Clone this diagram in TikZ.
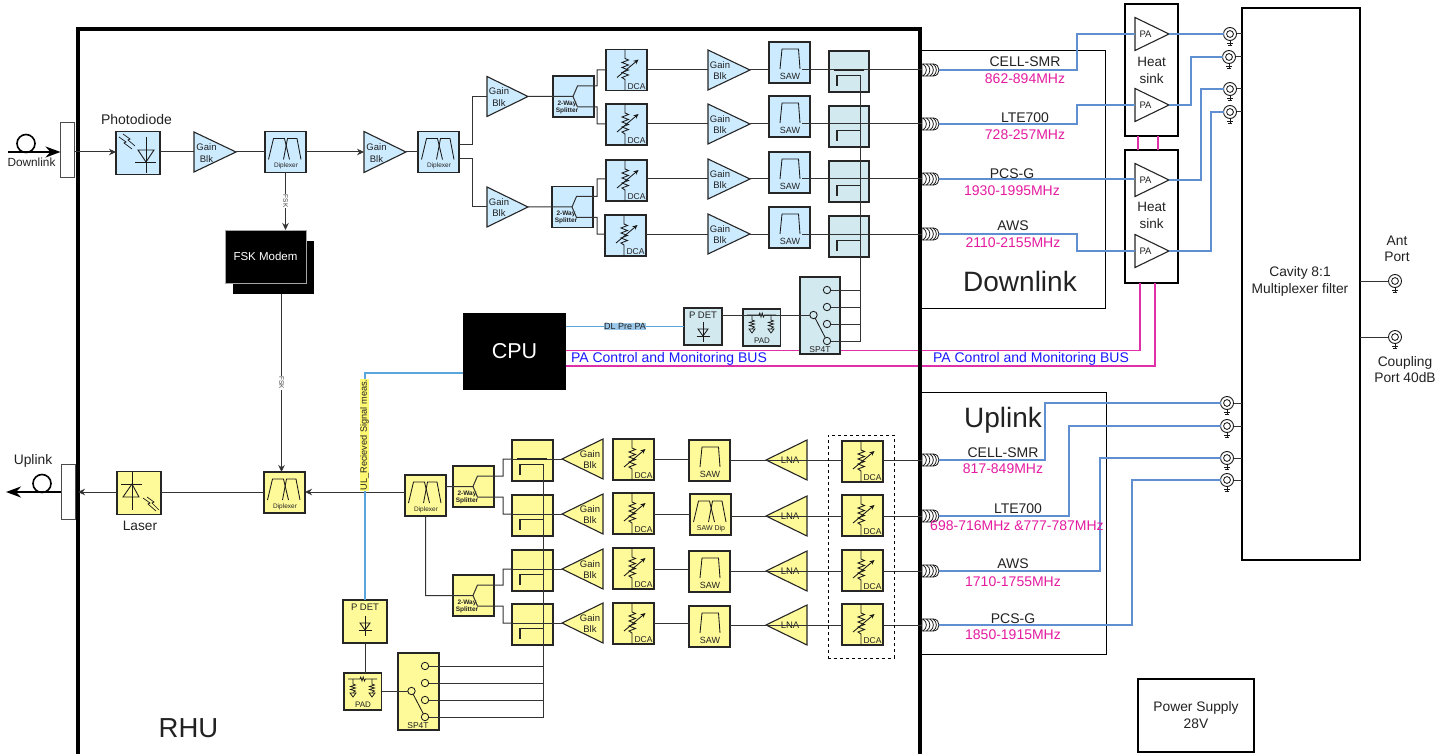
\documentclass[tikz,border=0pt]{standalone}
\usepackage{fontspec}
\setmainfont{Liberation Sans}
\usetikzlibrary{shapes.geometric,arrows.meta,calc}
\definecolor{dlfill}{HTML}{CCEBFF}
\definecolor{ulfill}{HTML}{FFFA99}
\definecolor{cpfill}{HTML}{D2E9EF}
\definecolor{linecol}{HTML}{333333}
\definecolor{sigblue}{HTML}{5F8FD0}
\definecolor{skyblue}{HTML}{5AA5DC}
\definecolor{busmag}{HTML}{E030A8}
\definecolor{freqmag}{HTML}{E41BA0}
\definecolor{busblue}{HTML}{1A1AFF}
\definecolor{txtcol}{HTML}{222222}
\newcommand{\fs}[2]{\fontsize{#1}{#2}\selectfont}
\tikzset{
 devbox/.style={rectangle,draw=black!85,line width=1.1,inner sep=0,outer sep=0,anchor=north west,minimum width=41,minimum height=41},
 dl/.style={devbox,fill=dlfill},
 ul/.style={devbox,fill=ulfill},
 cp/.style={devbox,fill=cpfill,minimum width=40},
 wire/.style={draw=linecol,line width=1},
 sym/.style={draw=black!90,line width=0.85},
 bw/.style={draw=sigblue,line width=1.25},
 skyw/.style={draw=skyblue,line width=1.1},
 busw/.style={draw=busmag,line width=1.4},
 arr/.style={-{Stealth[length=7pt,width=6.5pt]}},
 tx/.style={inner sep=0,outer sep=0,text=txtcol,align=center,yshift=-0.6pt},
 tritri/.style={isosceles triangle,isosceles triangle stretches,draw=black!85,line width=1.1,inner sep=0,outer sep=0,anchor=lower side},
 bigfib/.style={line width=2.4,draw=black,-{Stealth[length=15pt,width=11pt]}},
 hs/.style={rectangle,draw=black,line width=2.6,fill=none,inner sep=0,outer sep=0,anchor=north west},
 mag/.style={inner sep=0,outer sep=0,text=freqmag,font=\fs{14}{16},yshift=-1pt},
 blk/.style={inner sep=0,outer sep=0,text=txtcol,font=\fs{14}{16},yshift=-1pt},
 bus/.style={inner sep=0,outer sep=0,text=busblue,font=\fs{14}{16},yshift=-1pt},
 mainln/.style={draw=black!85,line width=1.4},
}
% horizontal wire between x of #1 and x of #2 at height of #3
\newcommand{\hw}[3]{\draw[wire] (#1 |- #3) -- (#2 |- #3);}
\newcommand{\Dca}[4]{%
 \node[#1] (#2) at (#3,#4) {};
 \begin{scope}[shift={(#3,#4)}]
 \draw[sym] (19,0) -- (19,9) -- (22.5,10.5) -- (16,13) -- (22.5,15.5) -- (16,18) -- (22.5,20.5) -- (16,23) -- (22.5,25.5) -- (16,28) -- (19,30) -- (19,41);
 \draw[sym,-{Stealth[length=5pt,width=4.5pt]}] (11,28) -- (32.5,10);
 \node[tx,font=\fs{8.5}{10}] (#2-t) at (30.5,36) {DCA};
 \end{scope}}
\newcommand{\Saw}[4]{%
 \node[#1] (#2) at (#3,#4) {};
 \begin{scope}[shift={(#3,#4)}]
 \draw[sym] (11,27) -- (13,7) -- (29.5,7) -- (31,27);
 \node[tx,font=\fs{9}{10}] (#2-t) at (21,34) {SAW};
 \end{scope}}
\newcommand{\Flt}[6]{% style name x y text size
 \node[#1] (#2) at (#3,#4) {};
 \begin{scope}[shift={(#3,#4)}]
 \draw[sym] (3.5,28) -- (8.5,7) -- (19.5,7) -- (24.5,28);
 \draw[sym] (18.5,28) -- (22.5,7) -- (32,7) -- (36,28);
 \node[tx,font=\fs{#6}{8}] (#2-t) at (21,34) {#5};
 \end{scope}}
\newcommand{\Split}[4]{%
 \node[#1] (#2) at (#3,#4) {};
 \begin{scope}[shift={(#3,#4)}]
 \coordinate (#2-f) at (20,20.5);
 \coordinate (#2-u) at (24.5,10);
 \coordinate (#2-d) at (24.5,31);
 \node[tx,font=\bfseries\fs{6.5}{6}] (#2-t) at (14,30.5) {2-Way\\Splitter};
 \end{scope}}
\newcommand{\Cpl}[4]{%
 \node[#1] (#2) at (#3,#4) {};
 \begin{scope}[shift={(#3,#4)}]
 \coordinate (#2-k) at (31.5,24.5);
 \draw[draw=black!85,line width=1.4] (8,35) -- (8,24.5) -- (31.5,24.5);
 \end{scope}}
\newcommand{\Sw}[4]{%
 \node[#1,minimum height=77] (#2) at (#3,#4) {};
 \begin{scope}[shift={(#3,#4)},every node/.style={circle,draw=black!90,line width=0.85,minimum size=7.4,inner sep=0,outer sep=0}]
 \node (#2-a) at (27,13) {};
 \node (#2-b) at (27,30) {};
 \node (#2-c) at (27,47) {};
 \node (#2-e) at (27,64) {};
 \node (#2-m) at (13.5,38) {};
 \end{scope}
 \draw[sym] (#2-m) -- (#2-e);
 \begin{scope}[shift={(#3,#4)}]
 \node[tx,font=\fs{8.5}{10}] (#2-t) at (20,72) {SP4T};
 \end{scope}}
\newcommand{\Pdet}[7]{% style name x y w h diode offset
 \node[#1,minimum width=#5,minimum height=#6] (#2) at (#3,#4) {};
 \begin{scope}[shift={({#3+#5/2},#4)}]
 \node[tx,font=\fs{9.5}{11}] (#2-t) at (0,7) {P DET};
 \draw[sym] (0,#7) -- (0,{#7+20});
 \draw[sym] (-5,{#7+7}) -- (5,{#7+7}) -- (0,{#7+14}) -- cycle;
 \draw[sym] (-6.5,{#7+14}) -- (6.5,{#7+14});
 \end{scope}}
\newcommand{\Pad}[4]{%
 \node[#1,minimum width=37.5,minimum height=37] (#2) at (#3,#4) {};
 \begin{scope}[shift={(#3,#4)}]
 \draw[sym,line width=0.75] (4,6) -- (16,6) -- (16.8,4) -- (18,8) -- (19.2,4) -- (20.4,8) -- (21.5,6) -- (33,6);
 \foreach \qq in {9,28}{
 \draw[sym,line width=0.75] (\qq,6) -- (\qq,11) -- (\qq+2.5,12) -- (\qq-2.5,13.5) -- (\qq+2.5,15) -- (\qq-2.5,16.5) -- (\qq+2.5,18) -- (\qq,19.5);
 \draw[sym,line width=0.75] (\qq-3,20) -- (\qq+3,20) -- (\qq,24) -- cycle;}
 \node[tx,font=\fs{8}{10}] (#2-t) at (19,31) {PAD};
 \end{scope}}
% base x, centre y, length, height
\newcommand{\TriR}[6]{\node[#1,tritri,shape border rotate=0,minimum width=#6,minimum height=#5] (#2) at (#3,#4) {};}
\newcommand{\TriL}[6]{\node[#1,tritri,shape border rotate=180,minimum width=#6,minimum height=#5] (#2) at (#3,#4) {};}
\newcommand{\Coax}[3]{%
 \node[inner sep=0,outer sep=0,minimum width=17,minimum height=12,anchor=west] (#1) at (#2,#3) {};
 \begin{scope}[shift={(#2,#3)}]
 \draw[fill=white,draw=black!90,line width=0.8] (0,-6) -- (11,-6) .. controls (19,-6) and (19,6) .. (11,6) -- (0,6) -- cycle;
 \foreach \qq in {1,4.5,8,11}{\draw[draw=black!90,line width=0.8] (\qq,-6) .. controls (\qq+4.5,-3) and (\qq+4.5,3) .. (\qq,6);}
 \end{scope}}
\newcommand{\Ring}[3]{%
 \node[circle,draw=black!90,line width=0.9,fill=white,minimum size=13,inner sep=0,outer sep=0] (#1) at (#2,#3) {};
 \begin{scope}[shift={(#2,#3)}]
 \draw[sym] (0,0) circle[radius=3.4];
 \draw[sym] (0,6.5) -- (0,11.5);
 \draw[sym] (-3,9.5) -- (3,9.5);
 \draw[sym] (-1.7,11.5) -- (1.7,11.5);
 \end{scope}}
\begin{document}
\begin{tikzpicture}[x=1pt,y=-1pt]
\useasboundingbox (0,0) rectangle (1448,754);
\fill[white] (0,0) rectangle (1448,754);
% frames
\draw[draw=black,line width=1] (920,50.5) -- (1105,50.5) -- (1105,308) -- (920,308);
\draw[draw=black,line width=1] (920,392.5) -- (1106,392.5) -- (1106,654) -- (920,654);
% pink bus wires
\node[rectangle,fill=black,inner sep=0,outer sep=0,anchor=north west,minimum width=103,minimum height=77,text=white,font=\fs{21.5}{24}] (cpu) at (463,313) {CPU};
\coordinate (b1) at (1140,350.5);
\coordinate (b2) at (1155,366);
\node[hs,minimum width=53,minimum height=132] (hs1) at (1125,4) {};
\node[hs,minimum width=53,minimum height=133] (hs2) at (1125,150) {};
\draw[busw] (cpu.east |- b1) -- (b1) -- (hs2.south -| b1);
\draw[busw] (cpu.east |- b2) -- (b2) -- (hs2.south -| b2);
\coordinate (h1) at (1138,0);
\coordinate (h2) at (1158,0);
\draw[busw] (hs1.south -| h1) -- (hs2.north -| h1);
\draw[busw] (hs1.south -| h2) -- (hs2.north -| h2);
% RHU
\node[rectangle,draw=black,line width=4.5,inner sep=0,outer sep=0,anchor=north west,minimum width=842,minimum height=745] (rhu) at (78,29) {};
\node[tx,font=\fs{27.5}{30}] (rhulab) at (188.5,728) {RHU};
% ports and fibres
\node[rectangle,draw=black!70,line width=0.8,fill=white,inner sep=0,outer sep=0,anchor=north west,minimum width=14,minimum height=55] (dlport) at (60.5,122) {};
\node[rectangle,draw=black!70,line width=0.8,fill=white,inner sep=0,outer sep=0,anchor=north west,minimum width=14,minimum height=55] (ulport) at (61,464) {};
\coordinate (row0) at (0,152);
\coordinate (dlfree) at (8,152);
\coordinate (ulfree) at (6,492);
\node[circle,draw=black,line width=1.6,minimum size=18,inner sep=0,outer sep=0] (dlfib) at (26,143.5) {};
\node[circle,draw=black,line width=1.6,minimum size=18,inner sep=0,outer sep=0] (ulfib) at (42,483.5) {};
\draw[bigfib] (dlfree) -- (dlport.west |- dlfree);
\draw[bigfib] (ulport.west |- ulfree) -- (ulfree);
\node[tx,font=\fs{11.8}{13}] (dlt) at (31.5,161.5) {Downlink};
\node[tx,font=\fs{13.8}{15}] (ult) at (33,460) {Uplink};
% === downlink chain ===
\node[dl,minimum width=44,minimum height=43] (pd) at (116,131.5) {};
\node[tx,font=\fs{14}{16}] (pdt) at (136.5,119) {Photodiode};
\draw[sym] (146,137) -- (146,173);
\draw[sym] (138,150) -- (154,150) -- (146,162) -- cycle;
\draw[sym] (135,162) -- (156,162);
\draw[sym,line width=0.7] (119,137) -- (126,142) -- (124,143) -- (132,149);
\draw[sym,line width=0.7] (123,134) -- (130,139) -- (128,140) -- (135,146);
\TriR{dl}{g1}{194}{152}{42}{40}
\node[tx,font=\fs{9.5}{11.5}] (g1t) at (206.5,152.5) {Gain\\Blk};
\Flt{dl}{dp1}{265}{131.5}{Diplexer}{6.5}
\TriR{dl}{g2}{364}{152}{42}{41}
\node[tx,font=\fs{9.5}{11.5}] (g2t) at (376.5,152.5) {Gain\\Blk};
\Flt{dl}{dp2}{418}{131.5}{Diplexer}{6.5}
\draw[wire,arr] (dlport.east |- row0) -- (pd.west |- row0);
\hw{pd.east}{g1.lower side}{row0}
\hw{g1.apex}{dp1.west}{row0}
\draw[wire,arr] (dp1.east |- row0) -- (g2.lower side |- row0);
\hw{g2.apex}{dp2.west}{row0}
\TriR{dl}{g3}{487}{96.5}{41}{40}
\node[tx,font=\fs{9.5}{11.5}] (g3t) at (499,96.5) {Gain\\Blk};
\TriR{dl}{g4}{487}{207}{41}{40}
\node[tx,font=\fs{9.5}{11.5}] (g4t) at (499,207) {Gain\\Blk};
\Split{dl}{sp1}{553}{76}
\Split{dl}{sp2}{552}{186.5}
\coordinate (jdp) at (472,0);
\coordinate (dpu) at (459,145);
\coordinate (dpd) at (459,159);
\draw[wire] (dpu) -- (jdp |- dpu) -- (jdp |- g3.apex) -- (g3.lower side);
\draw[wire] (dpd) -- (jdp |- dpd) -- (jdp |- g4.apex) -- (g4.lower side);
\foreach \i/\y/\dx/\dy/\sy/\cy in {1/70/606/49.5/42/51,2/124/606/104/96/106,3/179/606/160/152/161,4/234/605/215/207/216}{
 \coordinate (r\i) at (0,\y);
 \Dca{dl}{dca\i}{\dx}{\dy}
 \TriR{dl}{gb\i}{708}{\y}{42}{40}
 \node[tx,font=\fs{9.5}{11.5}] (gb\i t) at (720,\y) {Gain\\Blk};
 \Saw{dl}{saw\i}{769}{\sy}
 \Cpl{cp}{cpl\i}{829}{\cy}
 \Coax{cx\i}{922}{\y}
 \hw{dca\i.east}{gb\i.lower side}{r\i}
 \hw{gb\i.apex}{saw\i.west}{r\i}
 \draw[wire] ([xshift=-8pt]saw\i.east |- r\i) -- (cx\i.west |- r\i);
 \draw[wire] (cpl\i.west |- r\i) -- (cpl\i.east |- r\i);
}
\draw[mainln] ([xshift=5pt]cpl1.west |- r1) -- ([xshift=-5pt]cpl1.east |- r1);
\coordinate (js) at (597,0);
\draw[wire] (g3.apex) -- (sp1-f) -- (sp1-u) -- (js |- sp1-u) -- (js |- r1) -- (dca1.west |- r1);
\draw[wire] (sp1-f) -- (sp1-d) -- (js |- sp1-d) -- (js |- r2) -- (dca2.west |- r2);
\draw[wire] (g4.apex) -- (sp2-f) -- (sp2-u) -- (js |- sp2-u) -- (js |- r3) -- (dca3.west |- r3);
\draw[wire] (sp2-f) -- (sp2-d) -- (js |- sp2-d) -- (js |- r4) -- (dca4.west |- r4);
% FSK
\node[rectangle,fill=black,inner sep=0,outer sep=0,anchor=north west,minimum width=81,minimum height=53] (fskb) at (233,241) {};
\node[rectangle,fill=black,draw=black!35,line width=0.8,inner sep=0,outer sep=0,anchor=north west,minimum width=81,minimum height=53,text=white,font=\fs{11.5}{13}] (fsk) at (225,230) {FSK Modem};
\draw[wire,arr] (dp1.south) -- (dp1.south |- fsk.north) node[midway,rotate=-90,fill=white,inner sep=0.6,text=black!75,font=\fs{6.5}{8}] (fskl1) {FSK};
% DL detector
\Sw{cp}{swd}{800}{277}
\Pdet{cp}{pdd}{684}{308}{38}{37}{14}
\Pad{cp}{padd}{743}{309}
\draw[wire] (cpl1-k) -- (cpl1-k |- swd-e);
\foreach \n in {a,b,c,e}{\draw[wire] (swd-\n.east) -- (swd-\n -| cpl1-k);}
\draw[wire] (pdd.east |- swd-m) -- (swd-m.west);
\draw[skyw] (cpu.east |- pdd.west) -- (pdd.west)
  node[midway,fill=skyblue!60,inner sep=0.4,text=txtcol,font=\fs{9}{11}] (preL) {DL Pre PA};
\node[bus] (bus1) at (669,358) {PA Control and Monitoring BUS};
\node[bus] (bus2) at (1031,358) {PA Control and Monitoring BUS};
% === uplink chain ===
\Flt{ul}{dpm}{264}{472}{Diplexer}{6.5}
\node[ul,minimum width=44,minimum height=43] (laser) at (117,471.5) {};
\node[tx,font=\fs{13.7}{15}] (lat) at (140,525) {Laser};
\draw[sym] (132,472) -- (132,510);
\draw[sym] (121,484) -- (142,484);
\draw[sym] (123,497) -- (139,497) -- (132,484) -- cycle;
\draw[sym,line width=0.7] (143,498) -- (150,503) -- (148,504) -- (156,511);
\draw[sym,line width=0.7] (147,497) -- (154,502) -- (152,503) -- (159,510);
\coordinate (row5) at (0,492);
\draw[wire,arr] (laser.west |- row5) -- (rhu.west |- row5);
\hw{laser.east}{dpm.west}{row5}
\Flt{ul}{dpu1}{405}{475}{Diplexer}{6.5}
\draw[wire,arr] (dpu1.west |- row5) -- (dpm.east |- row5);
\coordinate (fk) at (281.5,0);
\draw[wire,arr] (fk |- fskb.south) -- (fk |- dpm.north) node[midway,rotate=-90,fill=white,inner sep=0.6,text=black!75,font=\fs{6.5}{8}] (fskl2) {FSK};
\Split{ul}{su1}{453}{466}
\Split{ul}{su2}{453}{575}
\foreach \i/\l/\r/\dy/\ry/\cy in {1/459/460/439/441/440,2/514/516/493/495/495,3/569/571/548/550/550,4/623/625/603/604/604}{
 \coordinate (rl\i) at (0,\l);
 \coordinate (rr\i) at (0,\r);
 \Dca{ul}{dcu\i}{613}{\dy}
 \TriL{ul}{gu\i}{603}{\l}{41}{40}
 \node[tx,font=\fs{9.5}{11.5}] (gu\i t) at (590,\l) {Gain\\Blk};
 \Cpl{ul}{cu\i}{512}{\cy}
 \TriL{ul}{lna\i}{807}{\r}{41}{40}
 \node[tx,font=\fs{9.5}{11}] (lna\i t) at (790,\r) {LNA};
 \Dca{ul}{dcb\i}{842}{\ry}
 \Coax{cy\i}{922}{\r}
}
\Saw{ul}{sawu1}{689}{440}
\Flt{ul}{sawu2}{690}{494}{SAW Dip}{7}
\Saw{ul}{sawu3}{689}{551}
\Saw{ul}{sawu4}{689}{606}
\foreach \i in {1,2,3,4}{
 \hw{dcu\i.east}{sawu\i.west}{rl\i}
 \hw{sawu\i.east}{lna\i.lower side}{rr\i}
 \hw{lna\i.apex}{dcb\i.west}{rr\i}
 \hw{dcb\i.east}{cy\i.west}{rr\i}
 \draw[wire] (gu\i.apex) -- (cu\i.west |- rl\i);
 \draw[wire] (cu\i.west |- rl\i) -- (cu\i.east |- rl\i);
}
\draw[mainln] ([xshift=5pt]cu1.west |- rl1) -- ([xshift=-6pt]cu1.east |- rl1);
\node[rectangle,draw=black,line width=0.9,dashed,inner sep=0,outer sep=0,anchor=north west,minimum width=66,minimum height=223] (dashbox) at (828,435) {};
\coordinate (ju) at (503,0);
\draw[wire] (dpu1.east |- su1-f) -- (su1-f) -- (su1-u) -- (ju |- su1-u) -- (ju |- rl1) -- (cu1.west |- rl1);
\draw[wire] (su1-f) -- (su1-d) -- (ju |- su1-d) -- (ju |- rl2) -- (cu2.west |- rl2);
\draw[wire] (dpu1.south) -- (dpu1.south |- su2-f) -- (su2-f) -- (su2-u) -- (ju |- su2-u) -- (ju |- rl3) -- (cu3.west |- rl3);
\draw[wire] (su2-f) -- (su2-d) -- (ju |- su2-d) -- (ju |- rl4) -- (cu4.west |- rl4);
\Sw{ul}{swu}{398}{653}
\Pdet{ul}{pdu}{343}{600}{44}{43}{16}
\Pad{ul}{padu}{344}{673}
\draw[wire] (cu1-k) -- (cu1-k |- swu-e);
\foreach \n in {a,b,c,e}{\draw[wire] (swu-\n.east) -- (swu-\n -| cu1-k);}
\draw[wire] (padu.east |- swu-m) -- (swu-m.west);
\draw[wire] (pdu.south) -- (pdu.south |- padu.north);
\coordinate (ulc) at (pdu.north |- 0,373);
\draw[skyw] (cpu.west |- ulc) -- (ulc) -- (pdu.north);
\node[rotate=90,fill=yellow!55,inner sep=0.5,text=txtcol,font=\fs{9.2}{11}] (ulsig) at (364.5,435) {UL\_Recieved Signal meas.};
% === right side ===
\node[rectangle,draw=black,line width=2.6,inner sep=0,outer sep=0,anchor=north west,minimum width=118,minimum height=552] (cav) at (1242,8) {};
\node[tx,font=\fs{13.8}{17}] (cavt) at (1300,280.5) {Cavity 8:1\\Multiplexer filter};
\TriR{}{pa1}{1135}{34}{34}{33}
\TriR{}{pa2}{1135}{105}{34}{33}
\TriR{}{pa3}{1135}{180}{34}{33}
\TriR{}{pa4}{1135}{251}{34}{33}
\foreach \i/\y in {1/34,2/105,3/180,4/251}{\node[tx,font=\fs{9.5}{10}] (pa\i t) at (1145.5,\y) {PA};}
\node[tx,font=\fs{13.5}{17}] (hs1t) at (1151.5,69.5) {Heat\\sink};
\node[tx,font=\fs{13.5}{17}] (hs2t) at (1151.5,214.5) {Heat\\sink};
\Ring{rd1}{1230}{34}
\Ring{rd2}{1229}{57}
\Ring{rd3}{1230}{89}
\Ring{rd4}{1230}{112}
\Ring{ru1}{1227}{403}
\Ring{ru2}{1227}{426}
\Ring{ru3}{1227}{458}
\Ring{ru4}{1227}{480}
\Ring{ant}{1395}{281}
\Ring{cpl}{1395}{337}
\foreach \n in {rd1,rd2,rd3,rd4,ru1,ru2,ru3,ru4}{\draw[wire] (\n.east) -- (\n -| cav.west);}
\draw[wire] (ant.west) -- (ant -| cav.east);
\draw[wire] (cpl.west) -- (cpl -| cav.east);
\coordinate (ja) at (1077,0);
\draw[bw] (cx1.east) -- (ja |- cx1) -- (ja |- pa1.apex) -- (pa1.lower side);
\draw[bw] (cx2.east) -- (ja |- cx2) -- (ja |- pa2.apex) -- (pa2.lower side);
\draw[bw] (cx3.east) -- (pa3.lower side |- cx3);
\draw[bw] (cx4.east) -- (ja |- cx4) -- (ja |- pa4.apex) -- (pa4.lower side);
\coordinate (jb2) at (1191,0);
\coordinate (jb3) at (1201,0);
\coordinate (jb4) at (1211,0);
\draw[bw] (pa1.apex) -- (rd1.west);
\draw[bw] (pa2.apex) -- (jb2 |- pa2.apex) -- (jb2 |- rd2) -- (rd2.west);
\draw[bw] (pa3.apex) -- (jb3 |- pa3.apex) -- (jb3 |- rd3) -- (rd3.west);
\draw[bw] (pa4.apex) -- (jb4 |- pa4.apex) -- (jb4 |- rd4) -- (rd4.west);
\coordinate (ku1) at (1045,0);
\coordinate (ku2) at (1069,0);
\coordinate (ku3) at (1100,0);
\coordinate (ku4) at (1132,0);
\foreach \i in {1,2,3,4}{\draw[bw] (cy\i.east) -- (ku\i |- cy\i) -- (ku\i |- ru\i) -- (ru\i.west);}
% labels
\node[blk] (l1) at (1025,61) {CELL-SMR};
\node[mag] (m1) at (1025,78) {862-894MHz};
\node[blk] (l2) at (1025,117) {LTE700};
\node[mag] (m2) at (1025,134) {728-257MHz};
\node[blk] (l3) at (1012,173) {PCS-G};
\node[mag] (m3) at (1012,190) {1930-1995MHz};
\node[blk] (l4) at (1013,225) {AWS};
\node[mag] (m4) at (1013,242) {2110-2155MHz};
\node[blk] (l5) at (1003,452) {CELL-SMR};
\node[mag] (m5) at (1003,468) {817-849MHz};
\node[blk] (l6) at (1018,508) {LTE700};
\node[mag] (m6) at (1017,525) {698-716MHz \&777-787MHz};
\node[blk] (l7) at (1013,563) {AWS};
\node[mag] (m7) at (1013,581) {1710-1755MHz};
\node[blk] (l8) at (1013,618) {PCS-G};
\node[mag] (m8) at (1013,634) {1850-1915MHz};
\node[tx,font=\fs{28}{30}] (dltxt) at (1020,281) {Downlink};
\node[tx,font=\fs{28}{30}] (ultxt) at (1003,420) {Uplink};
\node[tx,font=\fs{13.8}{16}] (antt) at (1397,248) {Ant\\Port};
\node[tx,font=\fs{13.8}{16}] (cplt) at (1405,369) {Coupling\\Port 40dB};
\node[rectangle,draw=black,line width=2,inner sep=0,outer sep=0,anchor=north west,minimum width=116,minimum height=73,text=txtcol,align=center,font=\fs{13.8}{17}] (psu) at (1138,679) {Power Supply\\28V};
\end{tikzpicture}
\end{document}
